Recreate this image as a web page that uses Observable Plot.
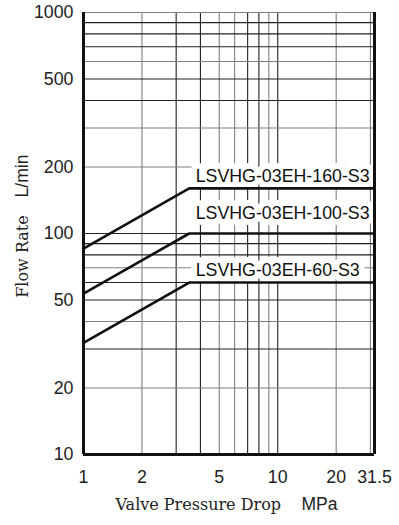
<!DOCTYPE html>
<html>
<head>
<meta charset="utf-8">
<script src="https://cdn.jsdelivr.net/npm/d3@7"></script>
<script src="https://cdn.jsdelivr.net/npm/@observablehq/plot@0.6"></script>
<style>
  html, body { margin: 0; padding: 0; background: #fff; }
  #chart svg { display: block; }
</style>
</head>
<body>
<div id="chart"></div>
<script>
// ---- data ----
const pressure = [1, 3.5, 31.5];
const flow160 = [85.5, 160, 160];
const flow100 = [53.5, 100, 100];
const flow60 = [32, 60, 60];
const models = ["LSVHG-03EH-160-S3", "LSVHG-03EH-100-S3", "LSVHG-03EH-60-S3"];
const labelFlow = [181, 123, 68];
const labelDrop = [3.78, 3.78, 3.78];

const xTicks = [1, 2, 5, 10, 20, 31.5];
const yTicks = [10, 20, 50, 100, 200, 500, 1000];
const xGridDark = [3, 4, 7, 8, 10];
const xGridLight = [2, 5, 6, 9, 20, 30];
const yGridDark = [30, 50, 60, 80, 90, 100, 400, 500, 700, 800, 900];
const yGridLight = [20, 40, 70, 200, 300, 600, 1000];

const seriesData = [flow160, flow100, flow60].flatMap((f, k) =>
  pressure.map((p, i) => ({series: models[k], p, q: f[i]}))
);
const labels = models.map((m, i) => ({m, p: labelDrop[i], q: labelFlow[i]}));

const sans = "'Liberation Sans', Arial, Helvetica, sans-serif";
const serif = "'DejaVu Serif', 'Liberation Serif', serif";

const chart = Plot.plot({
  width: 399,
  height: 525,
  marginLeft: 83,
  marginRight: 25,
  marginTop: 12,
  marginBottom: 71,
  style: {fontFamily: sans, fontSize: "17.8px", color: "#222", background: "#fff"},
  x: {type: "log", domain: [1, 31.5], ticks: xTicks, tickFormat: d => String(d), tickSize: 0, tickPadding: 16, label: null},
  y: {type: "log", domain: [10, 1000], ticks: yTicks, tickFormat: d => String(d), tickSize: 0, tickPadding: 10, label: null},
  marks: [
    Plot.ruleX(xGridLight, {stroke: "#808080", strokeWidth: 1.1}),
    Plot.ruleX(xGridDark, {stroke: "#222", strokeWidth: 1.1}),
    Plot.ruleY(yGridLight, {stroke: "#808080", strokeWidth: 1.1}),
    Plot.ruleY(yGridDark, {stroke: "#222", strokeWidth: 1.1}),
    Plot.text(labels, {
      x: "p", y: "q", text: "m", textAnchor: "start",
      fill: "#111", stroke: "#fff", strokeWidth: 12, strokeLinejoin: "round", paintOrder: "stroke",
      fontSize: 17.8, fontFamily: sans
    }),
    Plot.line(seriesData, {x: "p", y: "q", z: "series", stroke: "#111", strokeWidth: 2.6}),
    Plot.ruleX([1, 31.5], {stroke: "#111", strokeWidth: 3}),
    Plot.ruleY([10], {stroke: "#111", strokeWidth: 3}),
    Plot.text(["Valve Pressure Drop"], {frameAnchor: "bottom-left", textAnchor: "start", dx: 32, dy: 55, fontFamily: serif, fontSize: 16, fill: "#222"}),
    Plot.text(["MPa"], {frameAnchor: "bottom-left", textAnchor: "start", dx: 218, dy: 55, fontFamily: sans, fontSize: 17.5, fill: "#222"}),
    Plot.text(["Flow Rate"], {frameAnchor: "left", rotate: -90, textAnchor: "middle", dx: -61, dy: 23, fontFamily: serif, fontSize: 16, fill: "#222"}),
    Plot.text(["L/min"], {frameAnchor: "left", rotate: -90, textAnchor: "middle", dx: -61, dy: -57.5, fontFamily: sans, fontSize: 17.5, fill: "#222"})
  ]
});
document.getElementById("chart").appendChild(chart);
</script>
</body>
</html>
